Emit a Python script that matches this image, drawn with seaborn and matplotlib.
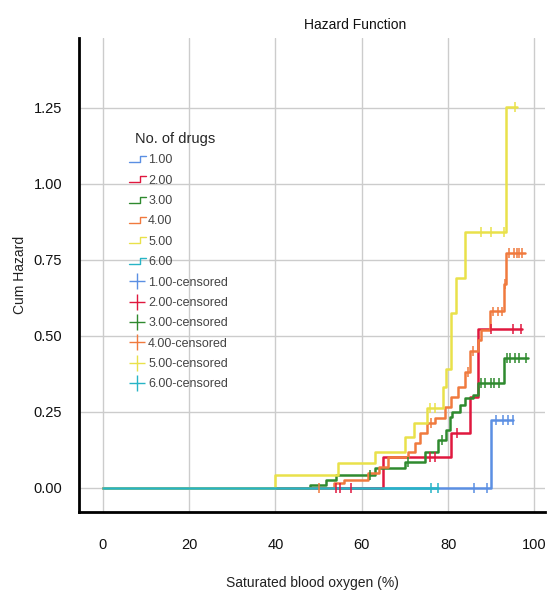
import numpy as np
import pandas as pd
import seaborn as sns
from matplotlib import pyplot as plt
from matplotlib.lines import Line2D
from matplotlib.legend_handler import HandlerBase

# groups (No. of drugs)
groups = ['1.00', '2.00', '3.00', '4.00', '5.00', '6.00']

# step curves: time (saturated O2 %) and cumulative hazard
x_1 = [0, 90, 95]
y_1 = [0, 0.224, 0.224]
x_2 = [0, 65, 80.6, 85, 86.9, 97.2]
y_2 = [0, 0.10, 0.18, 0.30, 0.523, 0.523]
x_3 = [0, 48, 51.8, 54, 63, 70, 74.7, 77.6, 79.5, 80.4, 81, 82.7, 83.9, 85.7, 86.9, 93, 98.4]
y_3 = [0, 0.01, 0.026, 0.043, 0.065, 0.086, 0.118, 0.158, 0.19, 0.234, 0.25, 0.273, 0.296, 0.306, 0.345, 0.428, 0.428]
x_4 = [0, 53.5, 56, 61.5, 64, 66, 70.7, 72.3, 73.5, 75, 77, 79.2, 80.6, 82.3, 83.9, 85, 86.9, 87.6, 89.6, 93, 93.5, 97.7]
y_4 = [0, 0.016, 0.026, 0.049, 0.07, 0.10, 0.118, 0.148, 0.18, 0.214, 0.23, 0.266, 0.30, 0.33, 0.38, 0.45, 0.487, 0.52, 0.58, 0.67, 0.773, 0.773]
x_5 = [0, 40, 54.6, 63, 70, 72, 75, 78.8, 79.5, 80.6, 81.8, 83.9, 93.3, 96]
y_5 = [0, 0.043, 0.08, 0.118, 0.168, 0.214, 0.263, 0.33, 0.39, 0.575, 0.69, 0.84, 1.253, 1.253]
x_6 = [0, 77.6]
y_6 = [0, 0]

# censored observations
cx_1 = [86, 89, 91, 92.7, 93.8, 95]
cy_1 = [0, 0, 0.224, 0.224, 0.224, 0.224]
cx_2 = [54, 55, 57.6, 75.8, 77, 82, 89.9, 95, 96.8]
cy_2 = [0, 0, 0, 0.10, 0.10, 0.18, 0.523, 0.523, 0.523]
cx_3 = [62, 70.7, 78.5, 87.6, 88.5, 89.9, 90.6, 91.8, 93.6, 94.4, 95.4, 96.5, 98]
cy_3 = [0.043, 0.086, 0.158, 0.345, 0.345, 0.345, 0.345, 0.345, 0.428, 0.428, 0.428, 0.428, 0.428]
cx_4 = [50, 76, 84.5, 85.8, 90.3, 91.5, 92.4, 93.2, 94.2, 95.2, 95.9, 96.5, 97.2]
cy_4 = [0, 0.214, 0.38, 0.45, 0.58, 0.58, 0.58, 0.67, 0.773, 0.773, 0.773, 0.773, 0.773]
cx_5 = [75.8, 77, 87.6, 89.9, 92.9, 95.6]
cy_5 = [0.263, 0.263, 0.84, 0.84, 0.84, 1.253]
cx_6 = [76, 77.6]
cy_6 = [0, 0]

colors = ['#5b8fe3', '#e0183e', '#2f8a2f', '#f07a3e', '#e9e14a', '#27b4c6']
palette = dict(zip(groups, colors))

curves = pd.concat([
    pd.DataFrame({'t': x, 'H': y, 'grp': g})
    for g, x, y in zip(groups, [x_1, x_2, x_3, x_4, x_5, x_6], [y_1, y_2, y_3, y_4, y_5, y_6])
], ignore_index=True)
cens = pd.concat([
    pd.DataFrame({'t': x, 'H': y, 'grp': g})
    for g, x, y in zip(groups, [cx_1, cx_2, cx_3, cx_4, cx_5, cx_6], [cy_1, cy_2, cy_3, cy_4, cy_5, cy_6])
], ignore_index=True)

sns.set_style('whitegrid')
plt.rcParams['font.family'] = ['Liberation Sans', 'DejaVu Sans']

fig = plt.figure(figsize=(5.48, 5.91), dpi=100)
ax = fig.add_axes([0.144, 0.134, 0.851, 0.802])

sns.lineplot(data=curves, x='t', y='H', hue='grp', palette=palette, estimator=None,
             sort=False, drawstyle='steps-post', linewidth=1.8, legend=False, ax=ax)
sns.scatterplot(data=cens, x='t', y='H', hue='grp', palette=palette, marker='|',
                s=50, linewidth=1.1, legend=False, ax=ax, zorder=3)

ax.set_xlim(-5.5, 102.5)
ax.set_ylim(-0.079, 1.48)
ax.set_xticks([0, 20, 40, 60, 80, 100])
ax.set_yticks([0, 0.25, 0.5, 0.75, 1.0, 1.25])
ax.set_yticklabels(['0.00', '0.25', '0.50', '0.75', '1.00', '1.25'])
ax.grid(True, color='#cccccc', linewidth=1)
for s in ['top', 'right']:
    ax.spines[s].set_visible(False)
for s in ['left', 'bottom']:
    ax.spines[s].set_color('black')
    ax.spines[s].set_linewidth(2)
ax.tick_params(axis='both', which='major', length=7, width=1, color='#bbbbbb',
               labelsize=10.5, labelcolor='#111111', pad=5)
ax.tick_params(axis='x', pad=12)
ax.set_xlabel('Saturated blood oxygen (%)', fontsize=10, labelpad=17, color='#222222')
ax.set_ylabel('Cum Hazard', fontsize=10, labelpad=5, color='#222222')
fig.text(0.648, 0.958, 'Hazard Function', fontsize=10, ha='center', va='center', color='#111111')


class StepHandler(HandlerBase):
    def create_artists(self, legend, orig_handle, xdescent, ydescent, width, height, fontsize, trans):
        x0, x1 = -xdescent, -xdescent + width
        xm = x0 + width * 0.62
        yl, yh = -ydescent + height * 0.15, -ydescent + height * 0.85
        ln = Line2D([x0, xm, xm, x1], [yl, yl, yh, yh], color=orig_handle.get_color(),
                    linewidth=1.0, transform=trans)
        return [ln]


step_handles = [Line2D([], [], color=c) for c in colors]
cens_handles = [Line2D([], [], color=c, marker='+', markersize=11, markeredgewidth=1.0, linestyle='')
                for c in colors]
labels = groups + [g + '-censored' for g in groups]
handler_map = {h: StepHandler() for h in step_handles}
leg = ax.legend(step_handles + cens_handles, labels, handler_map=handler_map,
                title='No. of drugs', loc='upper left', bbox_to_anchor=(0.088, 0.82),
                frameon=False, fontsize=9, title_fontsize=10.5, handlelength=1.4,
                handletextpad=0.15, labelspacing=0.67, borderpad=0.2)
leg._legend_box.align = 'left'
leg.get_title().set_position((6, 0))
for t in leg.get_texts():
    t.set_color('#444444')

plt.savefig('out.png', dpi=100)
